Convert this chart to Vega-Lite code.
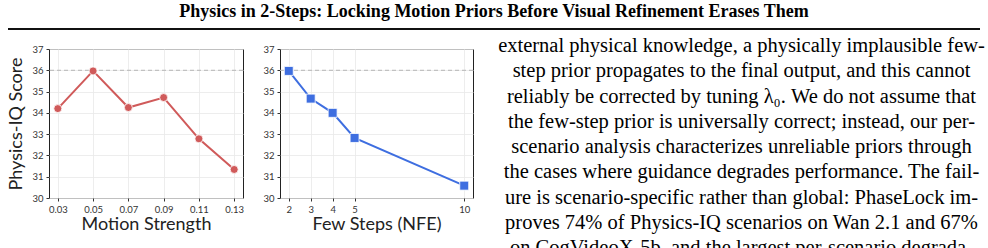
{
  "$schema": "https://vega.github.io/schema/vega-lite/v6.json",
  "background": "white",
  "padding": {"left": 7, "top": 3, "right": 0, "bottom": 0},
  "config": {
    "view": {"stroke": "#222", "strokeWidth": 1},
    "axis": {
      "grid": true,
      "gridColor": "#e8e8e8",
      "gridWidth": 0.8,
      "domain": false,
      "tickColor": "#333",
      "tickSize": 3,
      "labelFont": "Lato",
      "labelFontSize": 9.5,
      "labelColor": "#333",
      "labelPadding": 3,
      "labelOverlap": false,
      "titleFont": "Lato",
      "titleFontSize": 18,
      "titleFontWeight": "normal",
      "titleColor": "#222"
    }
  },
  "concat": [
    {
      "width": 931,
      "height": 2,
      "view": {"stroke": null},
      "title": {
        "text": "Physics in 2-Steps: Locking Motion Priors Before Visual Refinement Erases Them",
        "font": "Liberation Serif",
        "fontSize": 18,
        "fontWeight": "bold",
        "color": "#000",
        "anchor": "middle",
        "frame": "bounds",
        "offset": 7
      },
      "data": {"values": [{"from": 0, "to": 1}]},
      "mark": {"type": "rect", "color": "#111"},
      "encoding": {
        "x": {"field": "from", "type": "quantitative", "scale": {"domain": [0, 1], "range": [-41, 931], "nice": false, "zero": false}, "axis": null},
        "x2": {"field": "to"}
      }
    },
    {
      "bounds": "flush",
      "spacing": 37,
      "hconcat": [
        {
          "width": 194,
          "height": 149,
          "layer": [
            {
              "data": {"values": [{"ref": 36}]},
              "mark": {"type": "rule", "color": "#b5b5b5", "strokeDash": [4, 3], "strokeWidth": 1},
              "encoding": {"y": {"field": "ref", "type": "quantitative",
                "scale": {"domain": [30, 37], "nice": false, "zero": false},
                "axis": {"values": [30, 31, 32, 33, 34, 35, 36, 37], "title": "Physics-IQ Score", "titlePadding": 6}}}
            },
            {
              "data": {"values": [
                {"strength": 0.03, "score": 34.2},
                {"strength": 0.05, "score": 35.97},
                {"strength": 0.07, "score": 34.25},
                {"strength": 0.09, "score": 34.72},
                {"strength": 0.11, "score": 32.78},
                {"strength": 0.13, "score": 31.34}
              ]},
              "mark": {"type": "line", "color": "#d05a5a", "strokeWidth": 2,
                "point": {"filled": true, "size": 64, "color": "#d05a5a", "stroke": "white", "strokeWidth": 0.8}},
              "encoding": {
                "x": {"field": "strength", "type": "quantitative",
                  "scale": {"domain": [0.025, 0.135], "nice": false, "zero": false},
                  "axis": {"values": [0.03, 0.05, 0.07, 0.09, 0.11, 0.13], "format": ".2f", "title": "Motion Strength", "titlePadding": 2}},
                "y": {"field": "score", "type": "quantitative",
                  "scale": {"domain": [30, 37], "nice": false, "zero": false},
                  "axis": {"values": [30, 31, 32, 33, 34, 35, 36, 37], "title": "Physics-IQ Score", "titlePadding": 6}}
              }
            }
          ]
        },
        {
          "width": 193,
          "height": 149,
          "layer": [
            {
              "data": {"values": [{"ref": 36}]},
              "mark": {"type": "rule", "color": "#b5b5b5", "strokeDash": [4, 3], "strokeWidth": 1},
              "encoding": {"y": {"field": "ref", "type": "quantitative",
                "scale": {"domain": [30, 37], "nice": false, "zero": false},
                "axis": {"values": [30, 31, 32, 33, 34, 35, 36, 37], "title": null}}}
            },
            {
              "data": {"values": [
                {"nfe": 2, "score": 35.97},
                {"nfe": 3, "score": 34.67},
                {"nfe": 4, "score": 34.0},
                {"nfe": 5, "score": 32.82},
                {"nfe": 10, "score": 30.58}
              ]},
              "mark": {"type": "line", "color": "#3e6ee0", "strokeWidth": 2,
                "point": {"filled": true, "shape": "square", "size": 80, "color": "#3e6ee0", "stroke": "white", "strokeWidth": 0.8}},
              "encoding": {
                "x": {"field": "nfe", "type": "quantitative",
                  "scale": {"domain": [1.6, 10.4], "nice": false, "zero": false},
                  "axis": {"values": [2, 3, 4, 5, 10], "title": "Few Steps (NFE)", "titlePadding": 2}},
                "y": {"field": "score", "type": "quantitative",
                  "scale": {"domain": [30, 37], "nice": false, "zero": false},
                  "axis": {"values": [30, 31, 32, 33, 34, 35, 36, 37], "title": null}}
              }
            }
          ]
        },
        {
          "width": 463,
          "height": 199,
          "view": {"stroke": null},
          "data": {"values": [
            {"line": 1, "text": "external physical knowledge, a physically implausible few-"},
            {"line": 2, "text": "step prior propagates to the final output, and this cannot"},
            {"line": 3, "text": "reliably be corrected by tuning λ₀. We do not assume that"},
            {"line": 4, "text": "the few-step prior is universally correct; instead, our per-"},
            {"line": 5, "text": "scenario analysis characterizes unreliable priors through"},
            {"line": 6, "text": "the cases where guidance degrades performance. The fail-"},
            {"line": 7, "text": "ure is scenario-specific rather than global: PhaseLock im-"},
            {"line": 8, "text": "proves 74% of Physics-IQ scenarios on Wan 2.1 and 67%"},
            {"line": 9, "text": "on CogVideoX-5b, and the largest per-scenario degrada-"}
          ]},
          "mark": {"type": "text", "font": "Liberation Serif", "fontSize": 20.5, "color": "#000", "align": "center", "baseline": "alphabetic"},
          "encoding": {
            "y": {"field": "line", "type": "quantitative", "scale": {"domain": [1, 9], "range": [3, 205]}, "axis": null},
            "text": {"field": "text", "type": "nominal"}
          }
        }
      ]
    }
  ],
  "columns": 1,
  "align": "none",
  "spacing": 6
}
